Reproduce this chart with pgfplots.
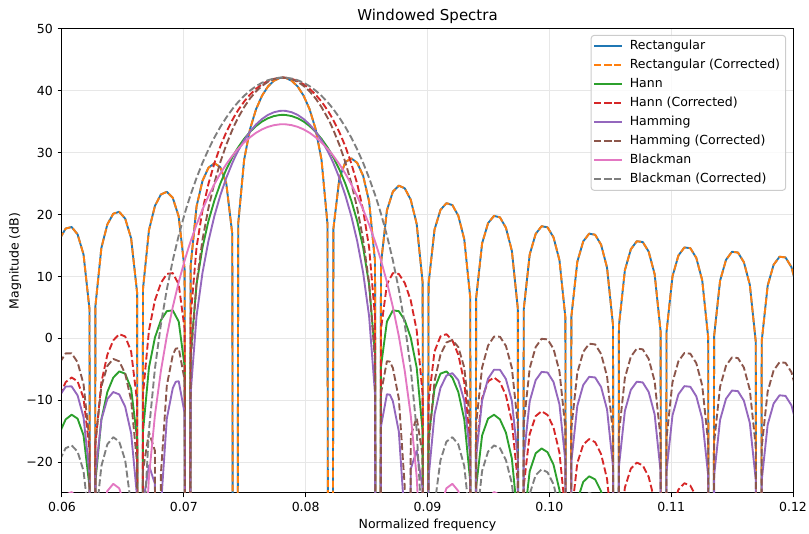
\documentclass[border=0pt]{standalone}
\usepackage{fontspec}
\setmainfont{DejaVu Sans}
\usepackage{pgfplots}
\usepackage{pgfplotstable}
\pgfplotsset{compat=1.18}
\definecolor{c0}{HTML}{1F77B4}
\definecolor{c1}{HTML}{FF7F0E}
\definecolor{c2}{HTML}{2CA02C}
\definecolor{c3}{HTML}{D62728}
\definecolor{c4}{HTML}{9467BD}
\definecolor{c5}{HTML}{8C564B}
\definecolor{c6}{HTML}{E377C2}
\definecolor{c7}{HTML}{7F7F7F}
\definecolor{gridc}{HTML}{E7E7E7}
\definecolor{legedge}{HTML}{CCCCCC}
\pgfplotstableread{
x R H HC M MC B BC
0.059814 16.08 -15.24 -9.22 -9.27 -3.92 -27.21 -19.67
0.060303 17.75 -13.10 -7.08 -7.79 -2.44 -25.30 -17.76
0.060791 17.99 -12.35 -6.33 -7.77 -2.42 -24.85 -17.31
0.061279 16.81 -12.98 -6.96 -9.22 -3.87 -25.85 -18.31
0.061768 13.55 -15.69 -9.67 -12.76 -7.41 -28.97 -21.43
0.062256 4.72 -23.98 -17.96 -21.87 -16.52 -37.70 -30.16
0.062500 -300 -300 -300 -300 -300 -300 -300
0.062744 5.25 -23.12 -17.10 -22.08 -16.73 -37.44 -29.90
0.063232 14.61 -13.12 -7.10 -13.13 -7.78 -28.19 -20.65
0.063721 18.41 -8.69 -2.67 -9.82 -4.47 -24.68 -17.14
0.064209 20.14 -6.35 -0.33 -8.68 -3.33 -23.52 -15.98
0.064697 20.45 -5.35 0.67 -9.07 -3.72 -24.24 -16.70
0.065186 19.35 -5.71 0.31 -11.06 -5.71 -27.25 -19.71
0.065674 16.17 -8.15 -2.13 -15.35 -10.00 -34.56 -27.02
0.066162 7.43 -16.17 -10.15 -25.58 -20.23 -64 -56.5
0.066406 -300 -300 -300 -300 -300 -300 -300
0.066650 8.03 -15.03 -9.01 -26.67 -21.32 -40.26 -32.72
0.067139 17.50 -4.71 1.31 -20.54 -15.19 -22.36 -14.82
0.067627 21.40 0.11 6.13 -23.52 -18.17 -12.44 -4.90
0.067977 nan nan nan -300 -300 nan nan
0.068115 23.25 2.92 8.94 -27.32 -21.97 -5.30 2.24
0.068604 23.68 4.39 10.41 -12.97 -7.62 0.36 7.90
0.069092 22.71 4.52 10.54 -8.06 -2.71 5.06 12.60
0.069336 nan nan nan -7.02 -1.67 nan nan
0.069580 19.68 2.71 8.73 -6.94 -1.59 9.09 16.63
0.070068 11.10 -4.56 1.46 -12.13 -6.78 12.59 20.13
0.070313 -300 -300 -300 -300 -300 14.18 21.72
0.070557 11.67 -2.57 3.45 -8.96 -3.61 15.67 23.21
0.071045 21.34 8.72 14.74 3.60 8.95 18.39 25.93
0.071533 25.47 14.70 20.72 10.61 15.96 20.83 28.37
0.072021 27.57 18.96 24.98 15.72 21.07 22.99 30.53
0.072510 28.30 22.29 28.31 19.79 25.14 24.92 32.46
0.072998 27.66 25.03 31.05 23.14 28.49 26.64 34.18
0.073486 25.02 27.31 33.33 25.94 31.29 28.15 35.69
0.073975 16.89 29.24 35.26 28.32 33.67 29.49 37.03
0.074219 -300 30.10 36.12 29.38 34.73 30.10 37.64
0.074463 18.56 30.88 36.90 30.34 35.69 30.66 38.20
0.074951 28.89 32.25 38.27 32.02 37.37 31.66 39.20
0.075439 33.85 33.39 39.41 33.43 38.78 32.51 40.05
0.075928 37.03 34.31 40.33 34.57 39.92 33.22 40.76
0.076416 39.21 35.04 41.06 35.45 40.80 33.77 41.31
0.076904 40.70 35.57 41.59 36.11 41.46 34.18 41.72
0.077393 41.63 35.92 41.94 36.54 41.89 34.45 41.99
0.077881 42.08 36.10 42.12 36.76 42.11 34.59 42.13
0.078125 42.14 36.12 42.14 36.79 42.14 34.61 42.15
0.078369 42.08 36.10 42.12 36.76 42.11 34.59 42.13
0.078857 41.63 35.92 41.94 36.54 41.89 34.45 41.99
0.079346 40.70 35.57 41.59 36.11 41.46 34.18 41.72
0.079834 39.21 35.04 41.06 35.45 40.80 33.77 41.31
0.080322 37.03 34.31 40.33 34.57 39.92 33.22 40.76
0.080811 33.85 33.39 39.41 33.43 38.78 32.51 40.05
0.081299 28.89 32.25 38.27 32.02 37.37 31.66 39.20
0.081787 18.56 30.88 36.90 30.34 35.69 30.66 38.20
0.082031 -300 30.10 36.12 29.38 34.73 30.10 37.64
0.082275 17.69 29.24 35.26 28.32 33.67 29.49 37.03
0.082764 25.82 27.31 33.33 25.94 31.29 28.15 35.69
0.083252 28.46 25.03 31.05 23.14 28.49 26.64 34.18
0.083740 29.10 22.29 28.31 19.79 25.14 24.92 32.46
0.084229 28.37 18.96 24.98 15.72 21.07 22.99 30.53
0.084717 26.27 14.70 20.72 10.61 15.96 20.83 28.37
0.085205 22.14 8.72 14.74 3.60 8.95 18.39 25.93
0.085693 12.47 -2.57 3.45 -8.96 -3.61 15.67 23.21
0.085938 -300 -300 -300 -300 -300 14.18 21.72
0.086182 12.10 -4.56 1.46 -14.23 -8.88 12.59 20.13
0.086670 20.68 2.71 8.73 -9.04 -3.69 9.09 16.63
0.086914 nan nan nan -9.12 -3.77 nan nan
0.087158 23.71 4.52 10.54 -10.16 -4.81 5.06 12.60
0.087646 24.68 4.39 10.41 -15.07 -9.72 0.36 7.90
0.088135 24.25 2.92 8.94 -29.42 -24.07 -5.30 2.24
0.088273 nan nan nan -300 -300 nan nan
0.088623 22.40 0.11 6.13 -21.12 -15.77 -12.44 -4.90
0.089111 18.50 -4.71 1.31 -18.14 -12.79 -22.36 -14.82
0.089600 9.03 -15.03 -9.01 -24.27 -18.92 -40.26 -32.72
0.089844 -300 -300 -300 -300 -300 -300 -300
0.090088 8.83 -16.17 -10.15 -22.53 -17.18 -64 -56.5
0.090576 17.57 -8.15 -2.13 -12.30 -6.95 -34.56 -27.02
0.091064 20.75 -5.71 0.31 -8.01 -2.66 -27.25 -19.71
0.091553 21.85 -5.35 0.67 -6.02 -0.67 -24.24 -16.70
0.092041 21.54 -6.35 -0.33 -5.63 -0.28 -23.52 -15.98
0.092529 19.81 -8.69 -2.67 -6.77 -1.42 -24.68 -17.14
0.093018 16.01 -13.12 -7.10 -10.08 -4.73 -28.19 -20.65
0.093506 6.65 -23.12 -17.10 -19.03 -13.68 -37.44 -29.90
0.093750 -300 -300 -300 -300 -300 -300 -300
0.093994 6.52 -23.98 -17.96 -19.17 -13.82 -37.70 -30.16
0.094482 15.35 -15.69 -9.67 -10.06 -4.71 -28.97 -21.43
0.094971 18.61 -12.98 -6.96 -6.52 -1.17 -25.85 -18.31
0.095459 19.79 -12.35 -6.33 -5.07 0.28 -24.85 -17.31
0.095947 19.55 -13.10 -7.08 -5.09 0.26 -25.30 -17.76
0.096436 17.88 -15.24 -9.22 -6.57 -1.22 -27.21 -19.67
0.096924 14.14 -19.45 -13.43 -10.13 -4.78 -31.00 -23.46
0.097412 4.83 -29.25 -23.23 -19.27 -13.92 -40.00 -32.46
0.097656 -300 -300 -300 -300 -300 -300 -300
0.097900 4.70 -29.92 -23.90 -19.19 -13.84 -41.28 -33.74
0.098389 13.55 -21.47 -15.45 -10.19 -4.84 -32.68 -25.14
0.098877 16.87 -18.59 -12.57 -6.77 -1.42 -29.66 -22.12
0.099365 18.12 -17.80 -11.78 -5.43 -0.08 -28.71 -21.17
0.099854 17.94 -18.41 -12.39 -5.52 -0.17 -29.20 -21.66
0.100342 16.33 -20.42 -14.40 -7.05 -1.70 -31.12 -23.58
0.100830 12.63 -24.51 -18.49 -10.67 -5.32 -35.11 -27.57
0.101318 3.35 -34.18 -28.16 -19.86 -14.51 -44.69 -37.15
0.101563 -300 -300 -300 -300 -300 -300 -300
0.101807 3.50 -34.74 -28.72 -19.92 -14.57 -45.10 -37.60
0.102295 12.35 -26.18 -20.16 -10.94 -5.59 -36.50 -29.00
0.102783 15.67 -23.20 -17.18 -7.54 -2.19 -33.50 -25.94
0.103271 16.92 -22.30 -16.28 -6.22 -0.87 -32.50 -24.97
0.103760 16.74 -22.81 -16.79 -6.33 -0.98 -33.00 -25.42
0.104248 15.13 -24.73 -18.71 -7.87 -2.52 -34.80 -27.29
0.104736 11.43 -28.73 -22.71 -11.49 -6.14 -38.80 -31.23
0.105225 2.15 -38.31 -32.29 -20.69 -15.34 -48.30 -40.76
0.105469 -300 -300 -300 -300 -300 -300 -300
0.105713 2.05 -38.78 -32.76 -20.71 -15.36 -52.5 -45
0.106201 11.01 -30.14 -24.12 -11.73 -6.38 -42.5 -35
0.106689 14.39 -27.09 -21.07 -8.33 -2.98 -37.5 -30
0.107178 15.69 -26.11 -20.09 -7.01 -1.66 -36.0 -28.5
0.107666 15.57 -26.55 -20.53 -7.13 -1.78 -36.5 -29
0.108154 14.01 -28.41 -22.39 -8.67 -3.32 -38.5 -31
0.108643 10.37 -32.34 -26.32 -12.29 -6.94 -42.5 -35
0.109131 1.15 -41.86 -35.84 -21.49 -16.14 -52.5 -45
0.109375 -300 -300 -300 -300 -300 -300 -300
0.109619 1.05 -42.27 -36.25 -21.44 -16.09 -60 -52
0.110107 10.01 -33.58 -27.56 -12.46 -7.11 -60 -52
0.110596 13.39 -30.47 -24.45 -9.05 -3.70 -60 -52
0.111084 14.69 -29.44 -23.42 -7.73 -2.38 -60 -52
0.111572 14.57 -29.83 -23.81 -7.83 -2.48 -60 -52
0.112061 13.01 -31.63 -25.61 -9.36 -4.01 -60 -52
0.112549 9.37 -35.52 -29.50 -12.98 -7.63 -60 -52
0.113037 0.15 -44.98 -38.96 -22.17 -16.82 -60 -52
0.113281 -300 -300 -300 -300 -300 -300 -300
0.113525 0.35 -45.3 -39.3 -22.17 -16.82 -60 -52
0.114014 9.31 -36.6 -30.6 -13.18 -7.83 -60 -52
0.114502 12.69 -33.4 -27.4 -9.77 -4.42 -60 -52
0.114990 13.99 -32.4 -26.4 -8.44 -3.09 -60 -52
0.115479 13.87 -32.7 -26.7 -8.54 -3.19 -60 -52
0.115967 12.31 -34.5 -28.5 -10.07 -4.72 -60 -52
0.116455 8.67 -38.3 -32.3 -13.67 -8.32 -60 -52
0.116943 -0.55 -47.8 -41.8 -22.86 -17.51 -60 -52
0.117188 -300 -300 -300 -300 -300 -300 -300
0.117432 -0.45 -50 -44 -22.96 -17.61 -60 -52
0.117920 8.51 -40 -34 -13.96 -8.61 -60 -52
0.118408 11.89 -40 -34 -10.55 -5.20 -60 -52
0.118896 13.19 -40 -34 -9.21 -3.86 -60 -52
0.119385 13.07 -40 -34 -9.31 -3.96 -60 -52
0.119873 11.51 -40 -34 -10.83 -5.48 -60 -52
0.120361 7.87 -40 -34 -14.43 -9.08 -60 -52
}\spec
\begin{document}
\begin{tikzpicture}
\useasboundingbox (-44.64pt,-28.8pt) rectangle (537.84pt,354.96pt);
\begin{axis}[
  at={(0pt,0pt)}, anchor=south west,
  scale only axis, width=526.32pt, height=334.08pt,
  xmin=0.06, xmax=0.12, ymin=-25, ymax=50,
  xtick={0.06,0.07,0.08,0.09,0.10,0.11,0.12},
  xticklabels={0.06,0.07,0.08,0.09,0.10,0.11,0.12},
  ytick={-20,-10,0,10,20,30,40,50},
  yticklabels={−20,−10,0,10,20,30,40,50},
  scaled x ticks=false,
  tick align=outside, tick pos=left, major tick length=3.15pt,
  every tick/.style={black, line width=0.72pt},
  axis line style={line width=0.72pt},
  grid=major, grid style={color=gridc, line width=0.72pt},
  tick label style={font=\fontsize{9}{10.8}\selectfont},
  title={Windowed Spectra},
  title style={font=\fontsize{10.8}{13}\selectfont, at={(axis description cs:0.5,1.0)}, anchor=base},
  xlabel={Normalized frequency},
  xlabel style={font=\fontsize{9}{10.8}\selectfont, at={(axis description cs:0.5,-0.0760)}, anchor=base},
  ylabel={Magnitude (dB)},
  ylabel style={font=\fontsize{9}{10.8}\selectfont, at={(axis description cs:-0.0640,0.5)}, anchor=center},
  legend cell align=left,
  legend style={at={(axis description cs:0.9905,0.9871)}, anchor=north east,
    draw=legedge, line width=0.72pt, rounded corners=2pt, fill=white, fill opacity=0.8, text opacity=1,
    font=\fontsize{9}{10.8}\selectfont, inner xsep=1.5pt, inner ysep=1.0pt, row sep=0pt, column sep=2.5pt,
    nodes={inner sep=2.44pt, text height=6.8pt, text depth=2pt}},
  legend image code/.code={\draw[line width=1.35pt, mark repeat=2,mark phase=2] plot coordinates {(0pt,0pt) (10pt,0pt) (20pt,0pt)};},
  every axis plot/.append style={line width=1.35pt, line join=round},
  unbounded coords=discard,
]
\addplot[c0] table[x=x,y=R] {\spec};
\addlegendentry{Rectangular}
\addplot[c1, dash pattern=on 5pt off 2.16pt] table[x=x,y=R] {\spec};
\addlegendentry{Rectangular (Corrected)}
\addplot[c2] table[x=x,y=H] {\spec};
\addlegendentry{Hann}
\addplot[c3, dash pattern=on 5pt off 2.16pt] table[x=x,y=HC] {\spec};
\addlegendentry{Hann (Corrected)}
\addplot[c4] table[x=x,y=M] {\spec};
\addlegendentry{Hamming}
\addplot[c5, dash pattern=on 5pt off 2.16pt] table[x=x,y=MC] {\spec};
\addlegendentry{Hamming (Corrected)}
\addplot[c6] table[x=x,y=B] {\spec};
\addlegendentry{Blackman}
\addplot[c7, dash pattern=on 5pt off 2.16pt] table[x=x,y=BC] {\spec};
\addlegendentry{Blackman (Corrected)}
\end{axis}
\end{tikzpicture}
\end{document}
